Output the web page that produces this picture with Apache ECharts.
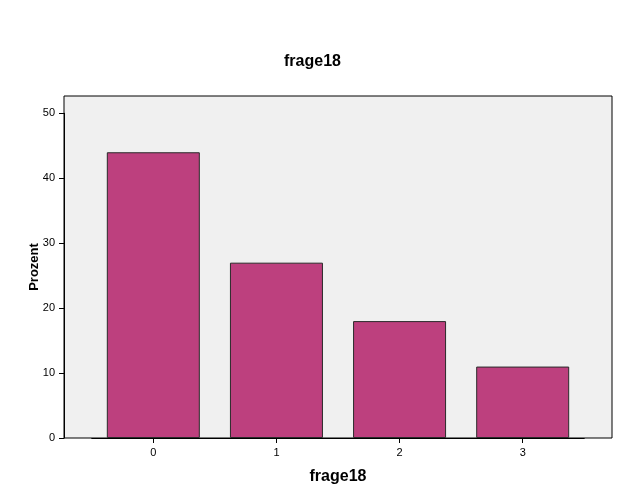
<!DOCTYPE html>
<html>
<head>
<meta charset="utf-8">
<script src="https://cdn.jsdelivr.net/npm/echarts@6/dist/echarts.min.js"></script>
<style>html,body{margin:0;padding:0;background:#fff}#c{width:625px;height:500px}</style>
</head>
<body>
<div id="c"></div>
<script>
const categories = ['0', '1', '2', '3'];
const values = [44, 27, 18, 11];
const yTicks = [0, 10, 20, 30, 40, 50];
const titleText = 'frage18';
const xName = 'frage18';
const yName = 'Prozent';

const chart = echarts.init(document.getElementById('c'), null, {renderer: 'canvas'});
const font = 'Liberation Sans, Arial, sans-serif';
const option = {
  animation: false,
  backgroundColor: '#ffffff',
  title: {
    text: titleText, left: 'center', top: 49,
    textStyle: {fontFamily: font, fontSize: 16, fontWeight: 'bold', color: '#000'}
  },
  grid: [
    {left: 64, right: 13, top: 96, bottom: 62, show: true, backgroundColor: '#f0f0f0', borderColor: '#000', borderWidth: 1, z: 0},
    {left: 91.75, right: 40.75, top: 113.3, bottom: 62},
    {left: 64, right: 13, top: 113.3, bottom: 62}
  ],
  xAxis: [
    {gridIndex: 0, type: 'category', data: categories, axisLine: {show: false}, axisTick: {show: false}, axisLabel: {show: false},
     name: xName, nameLocation: 'middle', nameGap: 31,
     nameTextStyle: {fontFamily: font, fontSize: 16, fontWeight: 'bold', color: '#000'}},
    {gridIndex: 1, type: 'category', data: categories, boundaryGap: true,
     axisLine: {show: true, lineStyle: {color: '#000', width: 1}},
     axisTick: {show: true, alignWithLabel: true, length: 5, lineStyle: {color: '#000'}},
     axisLabel: {fontFamily: font, fontSize: 11, color: '#000', margin: 9}},
    {gridIndex: 2, type: 'category', data: categories, show: false}
  ],
  yAxis: [
    {gridIndex: 0, type: 'value', min: 0, max: 52.7, show: true, axisLine: {show: false}, axisTick: {show: false}, axisLabel: {show: false}, splitLine: {show: false},
     name: yName, nameLocation: 'middle', nameGap: 23, nameRotate: 90,
     nameTextStyle: {fontFamily: font, fontSize: 13, fontWeight: 'bold', color: '#000'}},
    {gridIndex: 1, type: 'value', min: 0, max: 50, interval: 10, show: false},
    {gridIndex: 2, type: 'value', min: yTicks[0], max: yTicks[yTicks.length - 1], interval: 10,
     axisLine: {show: true, lineStyle: {color: '#000', width: 1}},
     axisTick: {show: true, inside: false, length: 5, lineStyle: {color: '#000'}},
     axisLabel: {fontFamily: font, fontSize: 11, color: '#000', margin: 9},
     splitLine: {show: false}}
  ],
  series: [{
    type: 'bar', xAxisIndex: 1, yAxisIndex: 1, data: values, barWidth: 93,
    itemStyle: {color: '#bd407e', borderColor: '#2a2a2a', borderWidth: 1},
    z: 3
  }]
};
chart.setOption(option);
</script>
</body>
</html>
